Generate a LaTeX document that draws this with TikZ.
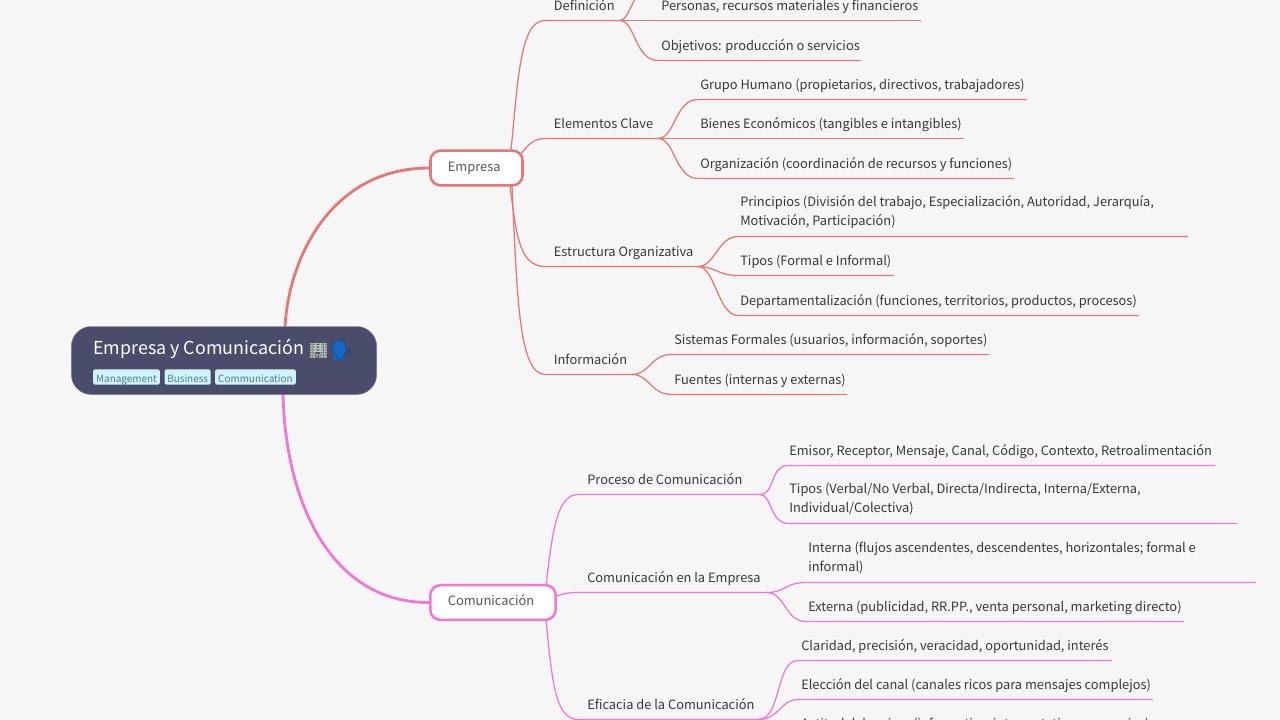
\documentclass[tikz,border=0pt]{standalone}
\usepackage{fontspec}
\setmainfont{Noto Sans CJK SC}
\newfontfamily\emojifont{Noto Emoji}
\definecolor{bgc}{HTML}{F6F6F6}
\definecolor{redc}{HTML}{E37878}
\definecolor{pinkc}{HTML}{F078D4}
\definecolor{rootc}{HTML}{4A4C6B}
\definecolor{txtc}{HTML}{383838}
\definecolor{tagbg}{HTML}{D3F1F8}
\definecolor{tagtx}{HTML}{3E8499}
\definecolor{bldc}{HTML}{B9C8CC}
\definecolor{headc}{HTML}{1667C4}
\tikzset{
 x=0.75pt,y=-0.75pt,
 leaf/.style={anchor=base west,inner sep=0pt,text=txtc,font=\fontsize{9.63pt}{13.9pt}\selectfont,align=left,yshift=-0.35pt},
 leaftwo/.style={anchor=west,inner sep=0pt,text=txtc,font=\fontsize{9.63pt}{13.9pt}\selectfont,align=left,yshift=-0.7pt},
 mainbox/.style={draw=#1,line width=1.9pt,fill=white,rounded corners=7.5pt,inner sep=0pt},
 tagbox/.style={fill=tagbg,rounded corners=1.5pt,inner sep=0pt,minimum height=11.5pt},
 tagtext/.style={anchor=base,inner sep=0pt,text=tagtx,font=\fontsize{7.45pt}{10pt}\selectfont},
 thin1/.style={draw=#1,line width=0.95pt},
 thick1/.style={draw=#1,line width=2.1pt},
}
\begin{document}
\begin{tikzpicture}
\useasboundingbox (0,0) rectangle (1280,720);
\clip (0,0) rectangle (1280,720);
\fill[bgc] (0,0) rectangle (1280,720);
\coordinate (rootT) at (285,328);
\coordinate (rootB) at (283,393);
\node[mainbox=redc,minimum width=69pt,minimum height=26pt] (emp) at (476.5,168) {};
\node[leaf,text=txtc!85] (empT) at (447.6,171.4) {Empresa};
\node[mainbox=pinkc,minimum width=94pt,minimum height=26pt] (com) at (493,602.5) {};
\node[leaf,text=txtc!85] (comT) at (447.6,605.4) {Comunicación};
\draw[thick1=redc] (rootT) .. controls (288,260) and (330,168) .. (emp.west);
\draw[thick1=pinkc] (rootB) .. controls (285,500) and (330,603) .. (com.west);
\node[fill=rootc,draw=rootc!75!white,line width=.3pt,rounded corners=15pt,minimum width=229pt,minimum height=51pt,inner sep=0pt] (root) at (224,360.5) {};
\node[anchor=base west,inner sep=0pt,text=white,font=\fontsize{13.4pt}{16pt}\selectfont] (rootT2) at (93,354.3) {Empresa y Comunicación};
\fill[bldc] (309.5,342.5) rectangle (326.5,359);
\fill[headc] (339,348) circle (7.5);
\fill[headc] (334,350) rectangle (344,359.5);
\node[anchor=center,inner sep=0pt,text=gray!65!black,font=\fontsize{14pt}{16pt}\emojifont] (emoji) at (318,350) {🏢};
\node[anchor=center,inner sep=0pt,text=headc!70!black,font=\fontsize{14pt}{16pt}\emojifont] (emoji2) at (341.5,350) {🗣};
\node[tagbox,minimum width=50pt] (t1) at (126.5,377) {};
\node[tagbox,minimum width=34.5pt] (t2) at (187.7,377) {};
\node[tagbox,minimum width=60.5pt] (t3) at (255.5,377) {};
\node[tagtext] (t1x) at (126.5,382.3) {Management};
\node[tagtext] (t2x) at (187.7,382.3) {Business};
\node[tagtext] (t3x) at (255.5,382.3) {Communication};
\coordinate (e1) at (511,150);
\coordinate (e2) at (520,155);
\coordinate (e3) at (510,186);
\coordinate (e4) at (512,186);
\node[leaf] (n1) at (553.6,9.8) {Definición};
\node[leaf] (n2) at (553.6,127.8) {Elementos Clave};
\node[leaf] (n3) at (553.6,255.8) {Estructura Organizativa};
\node[leaf] (n4) at (553.6,363.8) {Información};
\draw[thin1=redc] (e1) .. controls (518,80) and (520,20.5) .. (545,20.5) -- (620,20.5);
\draw[thin1=redc] (e2) .. controls (528,145) and (533,138.5) .. (545,138.5) -- (659,138.5);
\draw[thin1=redc] (e3) .. controls (516,230) and (518,266.5) .. (545,266.5) -- (699,266.5);
\draw[thin1=redc] (e4) .. controls (517,290) and (518,374.5) .. (545,374.5) -- (633,374.5);
\coordinate (a1) at (620,20.5);
\coordinate (a2) at (658,138.5);
\coordinate (a3) at (698,266.5);
\coordinate (a4) at (632,374.5);
\node[leaf] (l11) at (661,9.8) {Personas, recursos materiales y financieros};
\node[leaf] (l12) at (661,49.8) {Objetivos: producción o servicios};
\draw[thin1=redc] (a1) .. controls (630,20.5) and (636,-18) .. (652,-18) -- (660,-18);
\draw[thin1=redc] (a1) -- (921,20.5);
\draw[thin1=redc] (a1) .. controls (635,20.5) and (635,60.5) .. (658,60.5) -- (861,60.5);
\node[leaf] (l21) at (700,88.8) {Grupo Humano (propietarios, directivos, trabajadores)};
\node[leaf] (l22) at (700,127.8) {Bienes Económicos (tangibles e intangibles)};
\node[leaf] (l23) at (700,167.8) {Organización (coordinación de recursos y funciones)};
\draw[thin1=redc] (a2) .. controls (675,138.5) and (675,99.5) .. (698,99.5) -- (1027,99.5);
\draw[thin1=redc] (a2) -- (964,138.5);
\draw[thin1=redc] (a2) .. controls (675,138.5) and (675,178.5) .. (698,178.5) -- (1014,178.5);
\node[leaftwo] (l31) at (740,211) {Principios (División del trabajo, Especialización, Autoridad, Jerarquía,\\Motivación, Participación)};
\node[leaf] (l32) at (740,264.8) {Tipos (Formal e Informal)};
\node[leaf] (l33) at (740,304.8) {Departamentalización (funciones, territorios, productos, procesos)};
\draw[thin1=redc] (a3) .. controls (715,266.5) and (718,236.5) .. (738,236.5) -- (1188,236.5);
\draw[thin1=redc] (a3) .. controls (715,266.5) and (718,275.5) .. (738,275.5) -- (894,275.5);
\draw[thin1=redc] (a3) .. controls (715,266.5) and (718,315.5) .. (738,315.5) -- (1139,315.5);
\node[leaf] (l41) at (674,343.8) {Sistemas Formales (usuarios, información, soportes)};
\node[leaf] (l42) at (674,383.8) {Fuentes (internas y externas)};
\draw[thin1=redc] (a4) .. controls (650,374.5) and (650,354.5) .. (672,354.5) -- (989,354.5);
\draw[thin1=redc] (a4) .. controls (650,374.5) and (650,394.5) .. (672,394.5) -- (847,394.5);
\coordinate (c1) at (546,585);
\coordinate (c2) at (557,596);
\coordinate (c3) at (546,620);
\node[leaf] (m1) at (587,483.8) {Proceso de Comunicación};
\node[leaf] (m2) at (587,581.8) {Comunicación en la Empresa};
\node[leaf] (m3) at (587,708.8) {Eficacia de la Comunicación};
\draw[thin1=pinkc] (c1) .. controls (552,540) and (555,494.5) .. (578,494.5) -- (761,494.5);
\draw[thin1=pinkc] (c2) .. controls (565,593) and (570,592.5) .. (578,592.5) -- (768,592.5);
\draw[thin1=pinkc] (c3) .. controls (552,680) and (555,719.5) .. (578,719.5) -- (760,719.5);
\coordinate (b1) at (760,494.5);
\coordinate (b2) at (767,592.5);
\coordinate (b3) at (758,719.5);
\node[leaf] (p11) at (789,454.8) {Emisor, Receptor, Mensaje, Canal, Código, Contexto, Retroalimentación};
\node[leaftwo] (p12) at (789,498) {Tipos (Verbal/No Verbal, Directa/Indirecta, Interna/Externa,\\Individual/Colectiva)};
\draw[thin1=pinkc] (b1) .. controls (775,494.5) and (770,465.5) .. (788,465.5) -- (1215,465.5);
\draw[thin1=pinkc] (b1) .. controls (772,494.5) and (770,523.5) .. (788,523.5) -- (1237,523.5);
\node[leaftwo] (p21) at (808,557) {Interna (flujos ascendentes, descendentes, horizontales; formal e\\informal)};
\node[leaf] (p22) at (808,610.8) {Externa (publicidad, RR.PP., venta personal, marketing directo)};
\draw[thin1=pinkc] (b2) .. controls (785,592.5) and (785,582.5) .. (806,582.5) -- (1256,582.5);
\draw[thin1=pinkc] (b2) .. controls (785,592.5) and (785,621.5) .. (806,621.5) -- (1184,621.5);
\node[leaf] (p31) at (801,649.8) {Claridad, precisión, veracidad, oportunidad, interés};
\node[leaf] (p32) at (801,688.8) {Elección del canal (canales ricos para mensajes complejos)};
\node[leaf] (p33) at (801,727.8) {Actitud del emisor (informativa, interpretativa, persuasiva)};
\draw[thin1=pinkc] (b3) .. controls (782,719.5) and (775,660.5) .. (798,660.5) -- (1112,660.5);
\draw[thin1=pinkc] (b3) .. controls (780,719.5) and (780,699.5) .. (798,699.5) -- (1153,699.5);
\end{tikzpicture}
\end{document}
